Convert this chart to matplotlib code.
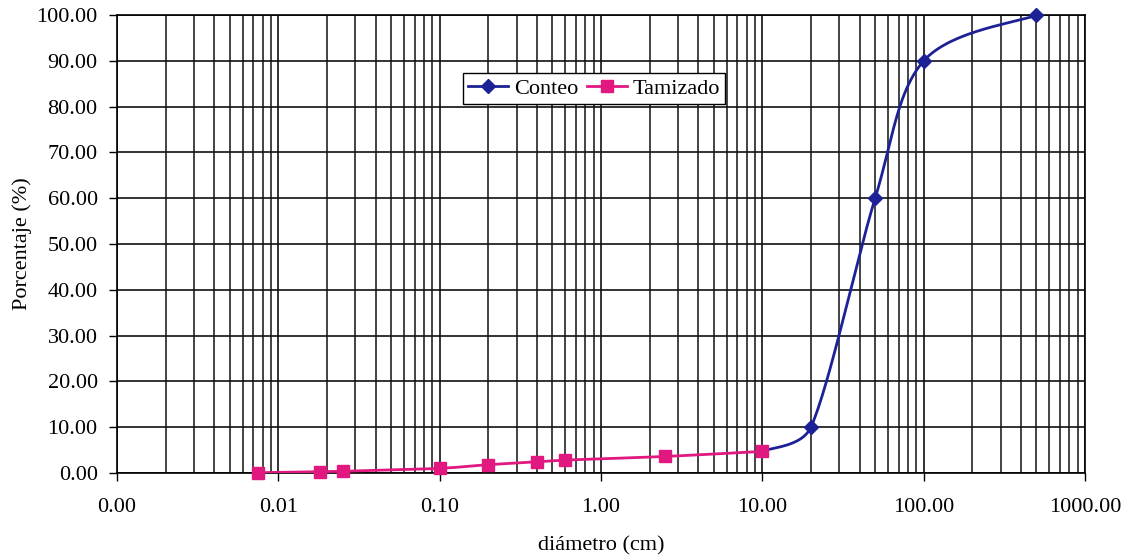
import numpy as np
import matplotlib
matplotlib.use("Agg")
import matplotlib.pyplot as plt
from matplotlib.ticker import LogLocator, FuncFormatter
from matplotlib.lines import Line2D

# ---- data ----
conteo_x = [10.0, 20.0, 50.0, 100.0, 500.0]
conteo_y = [4.7, 10.0, 60.0, 90.0, 100.0]
tamiz_x = [0.0075, 0.018, 0.025, 0.1, 0.2, 0.4, 0.6, 2.5, 10.0]
tamiz_y = [0.05, 0.25, 0.35, 1.0, 1.8, 2.4, 2.8, 3.6, 4.7]
x_ticks = [0.001, 0.01, 0.1, 1, 10, 100, 1000]
y_ticks = [0, 10, 20, 30, 40, 50, 60, 70, 80, 90, 100]

plt.rcParams['font.family'] = ['Liberation Serif', 'DejaVu Serif']

fig = plt.figure(figsize=(11.26, 5.59), dpi=100)
ax = fig.add_axes([0.104, 0.154, 0.8596, 0.819])
ax.set_xscale('log')
ax.set_xlim(0.001, 1000)
ax.set_ylim(0, 100)

W, H = 0.8596 * 1126, 0.819 * 559


def smooth(xs, ys, n=50):
    # Excel-like Bezier smoothing in screen-proportional coordinates
    u = (np.log10(xs) + 3) / 6 * W
    v = np.asarray(ys) / 100 * H
    P = np.column_stack([u, v])
    out = []
    for i in range(len(P) - 1):
        p0 = P[i - 1] if i > 0 else P[i]
        p1, p2 = P[i], P[i + 1]
        p3 = P[i + 2] if i + 2 < len(P) else P[i + 1]
        chord = np.linalg.norm(p2 - p1)
        d1 = (p2 - p0) / 6
        d2 = (p3 - p1) / 6
        lim = 0.4 * chord
        if np.linalg.norm(d1) > lim:
            d1 = d1 / np.linalg.norm(d1) * lim
        if np.linalg.norm(d2) > lim:
            d2 = d2 / np.linalg.norm(d2) * lim
        c1 = p1 + d1
        c2 = p2 - d2
        t = np.linspace(0, 1, n)[:, None]
        seg = ((1 - t) ** 3) * p1 + 3 * ((1 - t) ** 2) * t * c1 + 3 * (1 - t) * t ** 2 * c2 + t ** 3 * p2
        out.append(seg if i == 0 else seg[1:])
    S = np.vstack(out)
    return 10 ** (S[:, 0] / W * 6 - 3), S[:, 1] / H * 100


blue = '#1c2196'
pink = '#e0187f'

ax.grid(True, which='major', axis='both', color='#111111', lw=1.2)
ax.grid(True, which='minor', axis='x', color='#111111', lw=1.1)
ax.set_axisbelow(True)

cx, cy = smooth(conteo_x, conteo_y)
ax.plot(cx, cy, color=blue, lw=2.0, zorder=3, clip_on=False)
ax.plot(conteo_x[1:], conteo_y[1:], ls='none', marker='D', ms=7, color=blue, zorder=4, clip_on=False)

tx, ty = smooth(tamiz_x, tamiz_y)
ax.plot(tx, ty, color=pink, lw=2.0, zorder=3)
ax.plot(tamiz_x, tamiz_y, ls='none', marker='s', ms=8, color=pink, zorder=5, clip_on=False)

ax.xaxis.set_major_locator(plt.FixedLocator(x_ticks))
ax.xaxis.set_minor_locator(LogLocator(base=10, subs=np.arange(2, 10), numticks=20))
ax.xaxis.set_major_formatter(FuncFormatter(lambda v, p: f"{v:.2f}"))
ax.xaxis.set_minor_formatter(FuncFormatter(lambda v, p: ""))
ax.yaxis.set_major_locator(plt.FixedLocator(y_ticks))
ax.yaxis.set_major_formatter(FuncFormatter(lambda v, p: f"{v:.2f}"))

ax.tick_params(axis='both', which='major', labelsize=16, length=6, width=1, color='black', direction='out')
ax.tick_params(axis='x', which='major', pad=12)
ax.tick_params(axis='y', which='major', pad=8)
ax.tick_params(axis='x', which='minor', length=0)

for s in ax.spines.values():
    s.set_color('black')
    s.set_linewidth(1.2)

ax.set_xlabel('diámetro (cm)', fontsize=16, labelpad=14)
ax.set_ylabel('Porcentaje (%)', fontsize=16, labelpad=3)

handles = [
    Line2D([], [], color=blue, lw=2.0, marker='D', ms=7),
    Line2D([], [], color=pink, lw=2.0, marker='s', ms=8),
]
leg = ax.legend(handles, ['Conteo', 'Tamizado'], ncol=2, loc='upper left',
                bbox_to_anchor=(0.357, 0.874), fontsize=16, frameon=True,
                fancybox=False, framealpha=1, edgecolor='black', borderpad=0.25,
                handlelength=1.8, handletextpad=0.25, columnspacing=0.4,
                borderaxespad=0)
leg.get_frame().set_linewidth(1.0)

fig.savefig('out.png', dpi=100)
